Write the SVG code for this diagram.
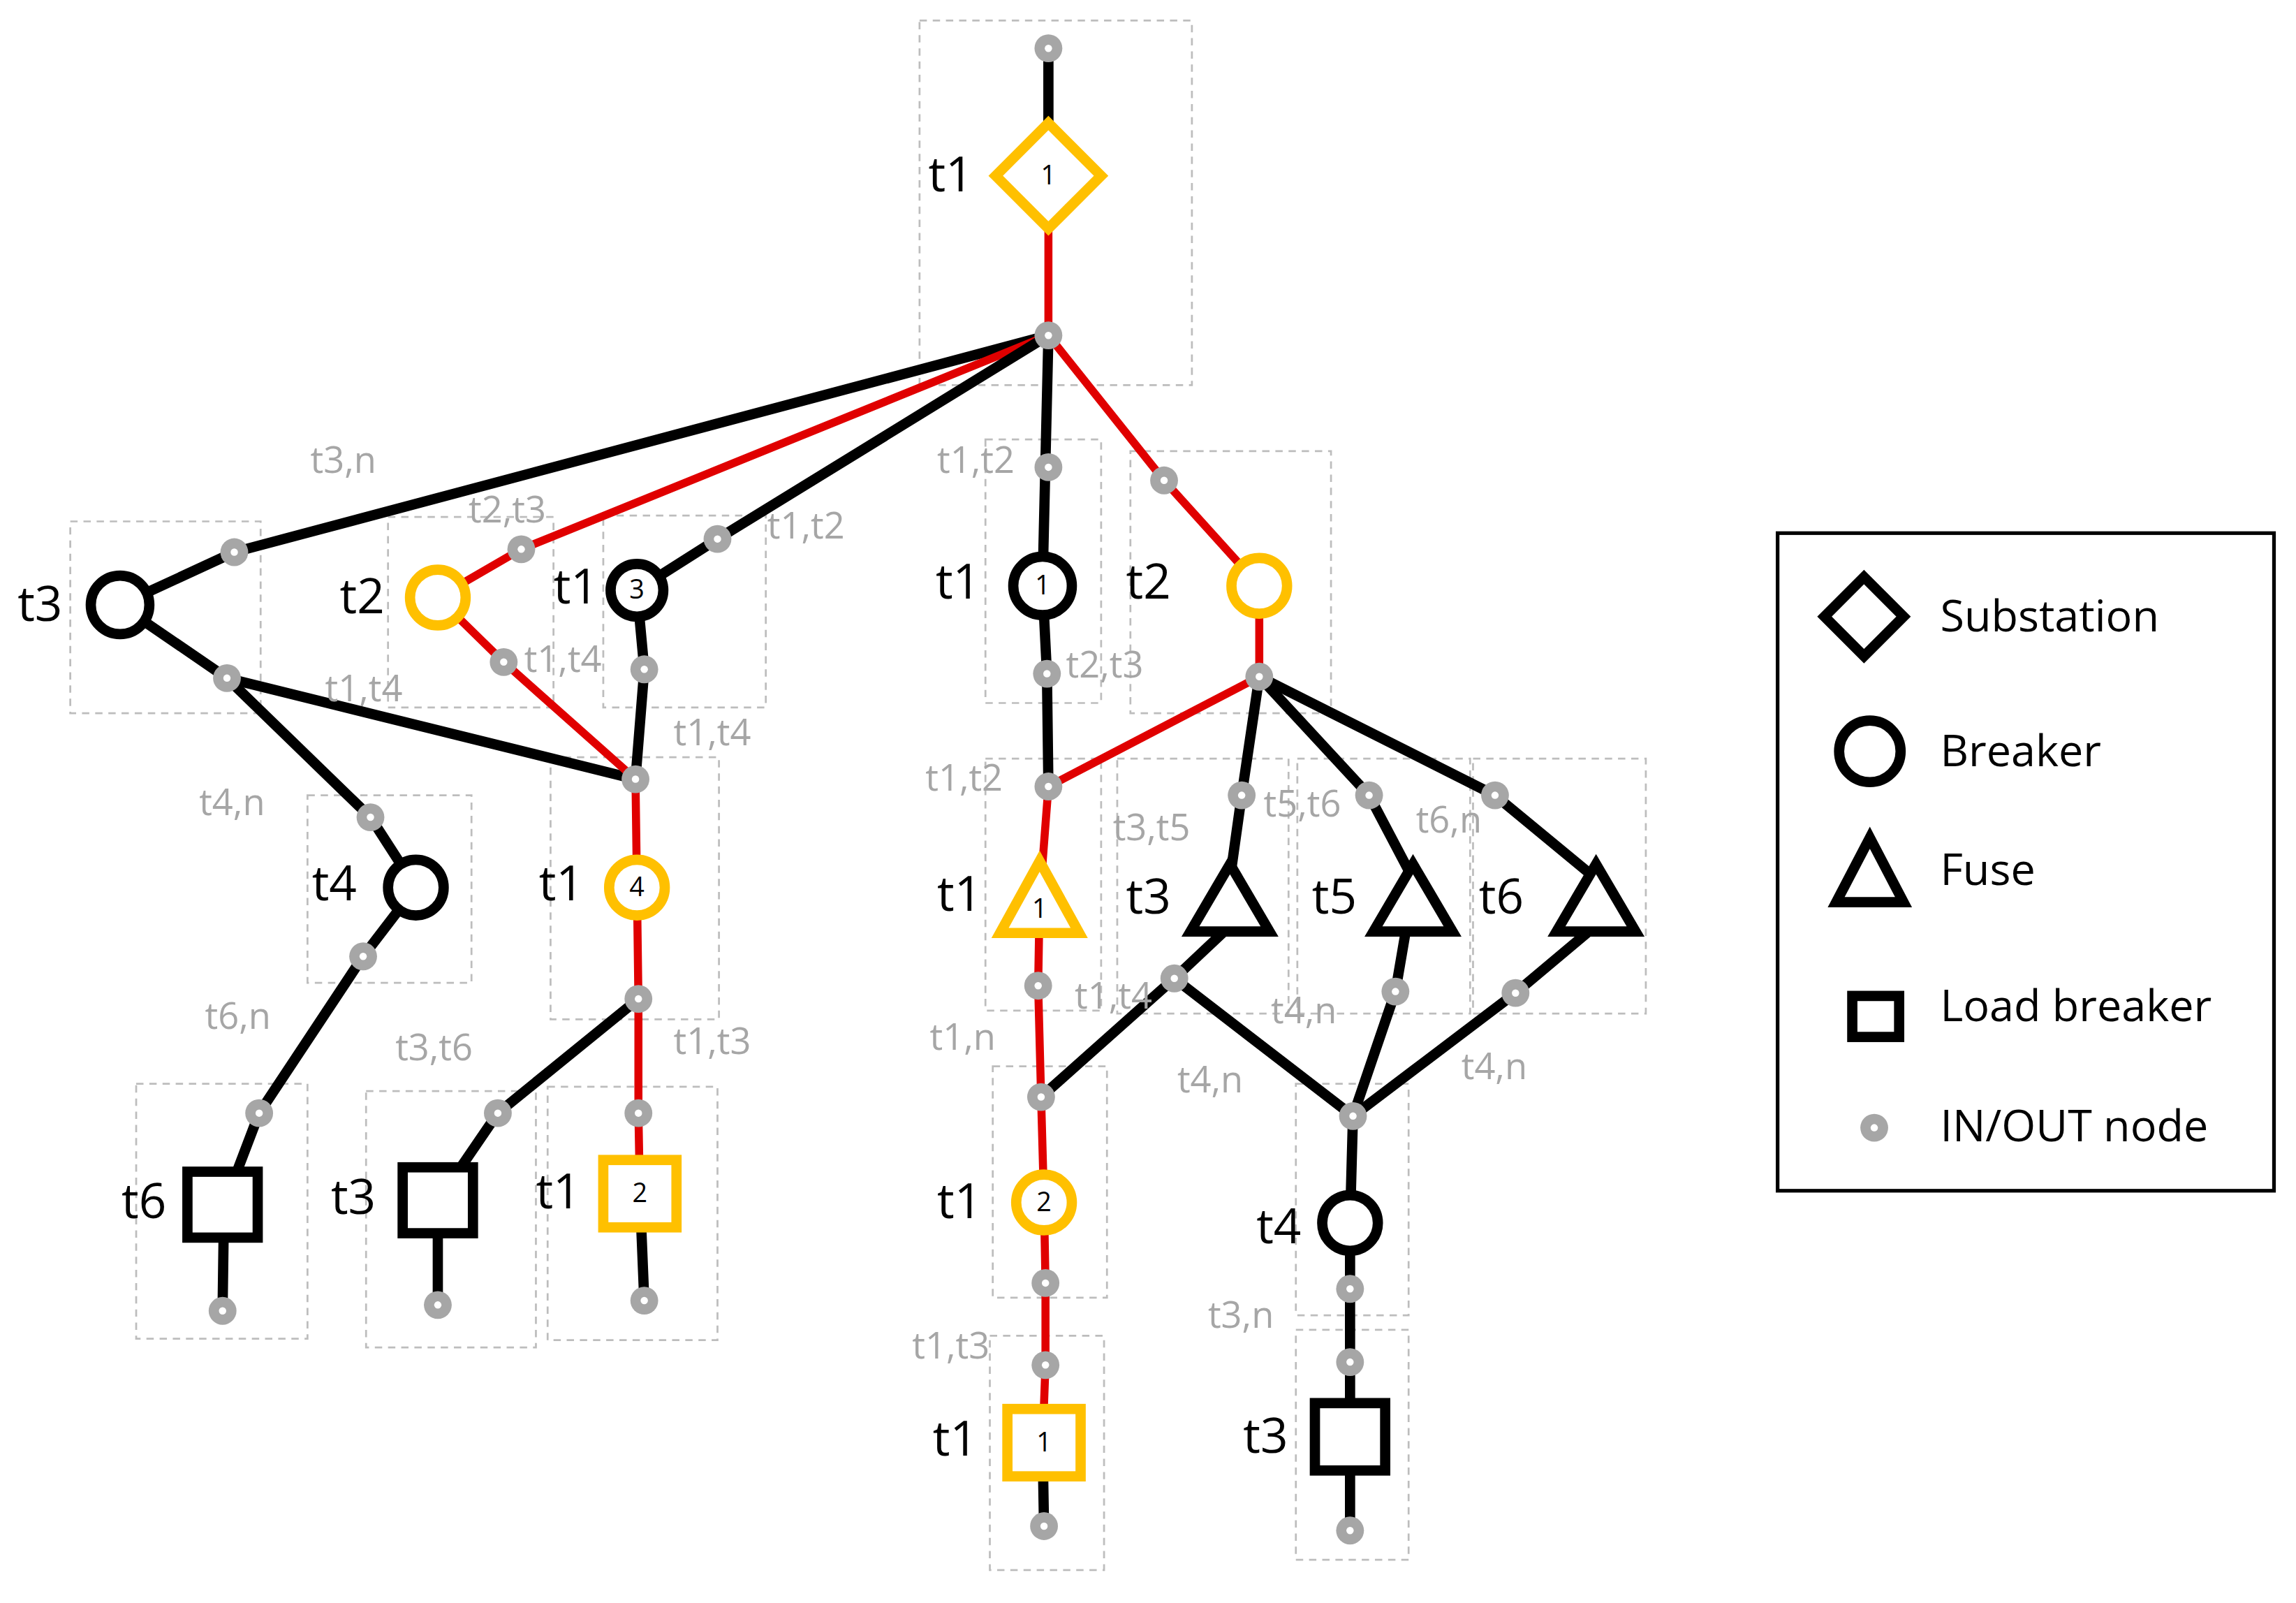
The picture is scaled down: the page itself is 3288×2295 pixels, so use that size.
<svg xmlns="http://www.w3.org/2000/svg" width="3288" height="2295" viewBox="0 0 3288 2295">
<style>
.b{stroke:#000;stroke-width:7;fill:none;stroke-linecap:round;stroke-linejoin:round}
.r{stroke:#e00000;stroke-width:5.5;fill:none;stroke-linejoin:round}
.bx{stroke:#bdbdbd;stroke-width:1.3;stroke-dasharray:5 4;fill:none}
.ys{stroke:#ffc000;stroke-width:7;fill:#fff}
.ks{stroke:#000;stroke-width:7;fill:#fff}
.lb{font-family:"Open Sans","Liberation Sans",sans-serif;font-size:33px;fill:#000;dominant-baseline:middle}
.gl{font-family:"Open Sans","Liberation Sans",sans-serif;font-size:25px;fill:#a6a6a6;dominant-baseline:middle}
.num{font-family:"Open Sans","Liberation Sans",sans-serif;font-size:18px;fill:#000;text-anchor:middle;dominant-baseline:middle}
.lg{font-family:"Open Sans","Liberation Sans",sans-serif;font-size:30px;fill:#000;dominant-baseline:middle}
</style>
<defs>
<g id="n"><circle r="9.5" fill="#a6a6a6"/><circle r="2.5" fill="#fff"/></g>
</defs>
<rect width="3288" height="2295" fill="#fff"/>
<g transform="scale(2.0969)">
<g id="boxes">
<rect class="bx" x="628" y="14" width="186" height="249"/>
<rect class="bx" x="48" y="356" width="130" height="131"/>
<rect class="bx" x="265" y="353" width="113" height="130"/>
<rect class="bx" x="412" y="352" width="111" height="131"/>
<rect class="bx" x="673" y="300" width="79" height="180"/>
<rect class="bx" x="772" y="308" width="137" height="179"/>
<rect class="bx" x="376" y="517" width="115" height="179"/>
<rect class="bx" x="210" y="543" width="112" height="128"/>
<rect class="bx" x="93" y="740" width="117" height="174"/>
<rect class="bx" x="250" y="745" width="116" height="175"/>
<rect class="bx" x="374" y="742" width="116" height="173"/>
<rect class="bx" x="673" y="518" width="79" height="172"/>
<rect class="bx" x="763" y="518" width="117" height="174"/>
<rect class="bx" x="886" y="518" width="118" height="174"/>
<rect class="bx" x="1006" y="518" width="118" height="174"/>
<rect class="bx" x="678" y="728" width="78" height="158"/>
<rect class="bx" x="676" y="912" width="78" height="160"/>
<rect class="bx" x="885" y="740" width="77" height="158"/>
<rect class="bx" x="885" y="908" width="77" height="157"/>
</g>
<g id="connectors">
<line class="b" x1="716" y1="33" x2="716" y2="120"/>
<line class="r" x1="716" y1="120" x2="716" y2="229"/>
<polyline class="b" points="716,229 160,377 82,413"/>
<polyline class="r" points="716,229 356,375 299,408"/>
<polyline class="b" points="716,229 490,368 435,403"/>
<line class="b" x1="716" y1="229" x2="712" y2="400"/>
<polyline class="r" points="716,229 795,328 860,400"/>
<line class="b" x1="82" y1="413" x2="155" y2="463"/>
<line class="b" x1="155" y1="463" x2="434" y2="532"/>
<polyline class="b" points="155,463 253,558 284,606"/>
<polyline class="r" points="299,408 344,452 434,532"/>
<polyline class="b" points="435,403 440,457 434,532"/>
<polyline class="r" points="434,532 435,606 436,682 436,760 437,815"/>
<line class="b" x1="437" y1="815" x2="440" y2="888"/>
<polyline class="b" points="436,682 340,760 299,820"/>
<line class="b" x1="299" y1="820" x2="299" y2="891"/>
<polyline class="b" points="284,606 248,653 177,760 153,823"/>
<line class="b" x1="153" y1="823" x2="152" y2="895"/>
<polyline class="b" points="712,400 715,460 716,537"/>
<line class="r" x1="716" y1="537" x2="860" y2="462"/>
<line class="r" x1="860" y1="400" x2="860" y2="462"/>
<polyline class="b" points="860,462 848,543 840,600"/>
<polyline class="b" points="860,462 935,543 965,600"/>
<polyline class="b" points="860,462 1021,543 1090,600"/>
<polyline class="r" points="716,537 710,615 709,673 711,749 713,821 714,876 714,932 712,985"/>
<line class="b" x1="712" y1="985" x2="713" y2="1042"/>
<polyline class="b" points="836,636 802,668 711,749"/>
<line class="b" x1="802" y1="668" x2="924" y2="762"/>
<polyline class="b" points="960,636 953,677 924,762"/>
<polyline class="b" points="1085,636 1035,678 924,762"/>
<polyline class="b" points="924,762 922,835 922,880 922,930 922,1045"/>
</g>
<g id="sub1"><polygon class="ys" points="716,84 752,120 716,156 680,120"/><text class="num" x="716" y="121">1</text><text class="lb" x="634" y="122">t1</text></g>
<g id="brk-t3"><circle class="ks" cx="82" cy="413" r="20"/><text class="lb" x="12" y="415">t3</text></g>
<g id="brk-t2a"><circle class="ys" cx="299" cy="408" r="19"/><text class="lb" x="232" y="410">t2</text></g>
<g id="brk-t1-3"><circle class="ks" cx="435" cy="403" r="18"/><text class="num" x="435" y="404">3</text><text class="lb" x="378" y="403">t1</text></g>
<g id="brk-t1-4"><circle class="ys" cx="435" cy="606" r="19"/><text class="num" x="435" y="607">4</text><text class="lb" x="368" y="606">t1</text></g>
<g id="brk-t4a"><circle class="ks" cx="284" cy="606" r="19"/><text class="lb" x="213" y="606">t4</text></g>
<g id="lb-t6"><rect class="ks" x="128" y="800" width="48" height="45"/><text class="lb" x="83" y="823">t6</text></g>
<g id="lb-t3a"><rect class="ks" x="275" y="797" width="48" height="45"/><text class="lb" x="226" y="820">t3</text></g>
<g id="lb-t1-2"><rect class="ys" x="412" y="792" width="50" height="46"/><text class="num" x="437" y="816">2</text><text class="lb" x="366" y="816">t1</text></g>
<g id="brk-t1-1"><circle class="ks" cx="712" cy="400" r="20"/><text class="num" x="712" y="401">1</text><text class="lb" x="639" y="400">t1</text></g>
<g id="brk-t2b"><circle class="ys" cx="860" cy="400" r="19"/><text class="lb" x="769" y="400">t2</text></g>
<g id="fuse-t1"><polygon class="ys" points="710,588 737,637 683,637"/><text class="num" x="710" y="622">1</text><text class="lb" x="640" y="613">t1</text></g>
<g id="fuse-t3"><polygon class="ks" points="840,590 867,636 813,636"/><text class="lb" x="769" y="615">t3</text></g>
<g id="fuse-t5"><polygon class="ks" points="965,590 992,636 938,636"/><text class="lb" x="896" y="615">t5</text></g>
<g id="fuse-t6"><polygon class="ks" points="1090,590 1117,636 1063,636"/><text class="lb" x="1010" y="615">t6</text></g>
<g id="brk-t1-2"><circle class="ys" cx="713" cy="821" r="19"/><text class="num" x="713" y="822">2</text><text class="lb" x="640" y="823">t1</text></g>
<g id="lb-t1-1"><rect class="ys" x="688" y="962" width="50" height="46"/><text class="num" x="713" y="986">1</text><text class="lb" x="637" y="985">t1</text></g>
<g id="brk-t4b"><circle class="ks" cx="922" cy="835" r="19"/><text class="lb" x="858" y="840">t4</text></g>
<g id="lb-t3b"><rect class="ks" x="898" y="958" width="48" height="46"/><text class="lb" x="849" y="983">t3</text></g>
<g id="nodes">
<use href="#n" x="716" y="33"/><use href="#n" x="716" y="229"/>
<use href="#n" x="160" y="377"/><use href="#n" x="356" y="375"/><use href="#n" x="490" y="368"/>
<use href="#n" x="716" y="319"/><use href="#n" x="795" y="328"/>
<use href="#n" x="155" y="463"/><use href="#n" x="344" y="452"/><use href="#n" x="440" y="457"/>
<use href="#n" x="434" y="532"/><use href="#n" x="436" y="682"/><use href="#n" x="436" y="760"/>
<use href="#n" x="440" y="888"/><use href="#n" x="340" y="760"/><use href="#n" x="299" y="891"/>
<use href="#n" x="253" y="558"/><use href="#n" x="248" y="653"/><use href="#n" x="177" y="760"/><use href="#n" x="152" y="895"/>
<use href="#n" x="715" y="460"/><use href="#n" x="716" y="537"/><use href="#n" x="860" y="462"/>
<use href="#n" x="848" y="543"/><use href="#n" x="935" y="543"/><use href="#n" x="1021" y="543"/>
<use href="#n" x="709" y="673"/><use href="#n" x="711" y="749"/><use href="#n" x="714" y="876"/><use href="#n" x="714" y="932"/><use href="#n" x="713" y="1042"/>
<use href="#n" x="802" y="668"/><use href="#n" x="953" y="677"/><use href="#n" x="1035" y="678"/>
<use href="#n" x="924" y="762"/><use href="#n" x="922" y="880"/><use href="#n" x="922" y="930"/><use href="#n" x="922" y="1045"/>
</g>
<g id="labels">
<text class="gl" x="212" y="316">t3,n</text>
<text class="gl" x="320" y="350">t2,t3</text>
<text class="gl" x="524" y="361">t1,t2</text>
<text class="gl" x="640" y="316">t1,t2</text>
<text class="gl" x="222" y="472">t1,t4</text>
<text class="gl" x="358" y="452">t1,t4</text>
<text class="gl" x="460" y="502">t1,t4</text>
<text class="gl" x="728" y="456">t2,t3</text>
<text class="gl" x="632" y="533">t1,t2</text>
<text class="gl" x="136" y="550">t4,n</text>
<text class="gl" x="140" y="696">t6,n</text>
<text class="gl" x="270" y="717">t3,t6</text>
<text class="gl" x="460" y="713">t1,t3</text>
<text class="gl" x="760" y="567">t3,t5</text>
<text class="gl" x="863" y="551">t5,t6</text>
<text class="gl" x="967" y="562">t6,n</text>
<text class="gl" x="734" y="682">t1,t4</text>
<text class="gl" x="868" y="692">t4,n</text>
<text class="gl" x="635" y="710">t1,n</text>
<text class="gl" x="804" y="739">t4,n</text>
<text class="gl" x="998" y="730">t4,n</text>
<text class="gl" x="825" y="900">t3,n</text>
<text class="gl" x="623" y="921">t1,t3</text>
</g>
<g id="legend">
<rect x="1214" y="364" width="339" height="449" fill="none" stroke="#000" stroke-width="2.5"/>
<polygon class="ks" points="1273,394 1300,421 1273,448 1246,421"/>
<circle class="ks" cx="1277" cy="513" r="21"/>
<polygon class="ks" points="1277,572 1300,616 1254,616"/>
<rect class="ks" x="1265" y="680" width="32" height="28" stroke-width="5"/>
<use href="#n" x="1280" y="770"/>
<text class="lg" x="1325" y="423">Substation</text>
<text class="lg" x="1325" y="515">Breaker</text>
<text class="lg" x="1325" y="596">Fuse</text>
<text class="lg" x="1325" y="689">Load breaker</text>
<text class="lg" x="1325" y="771">IN/OUT node</text>
</g>
</g>
</svg>
